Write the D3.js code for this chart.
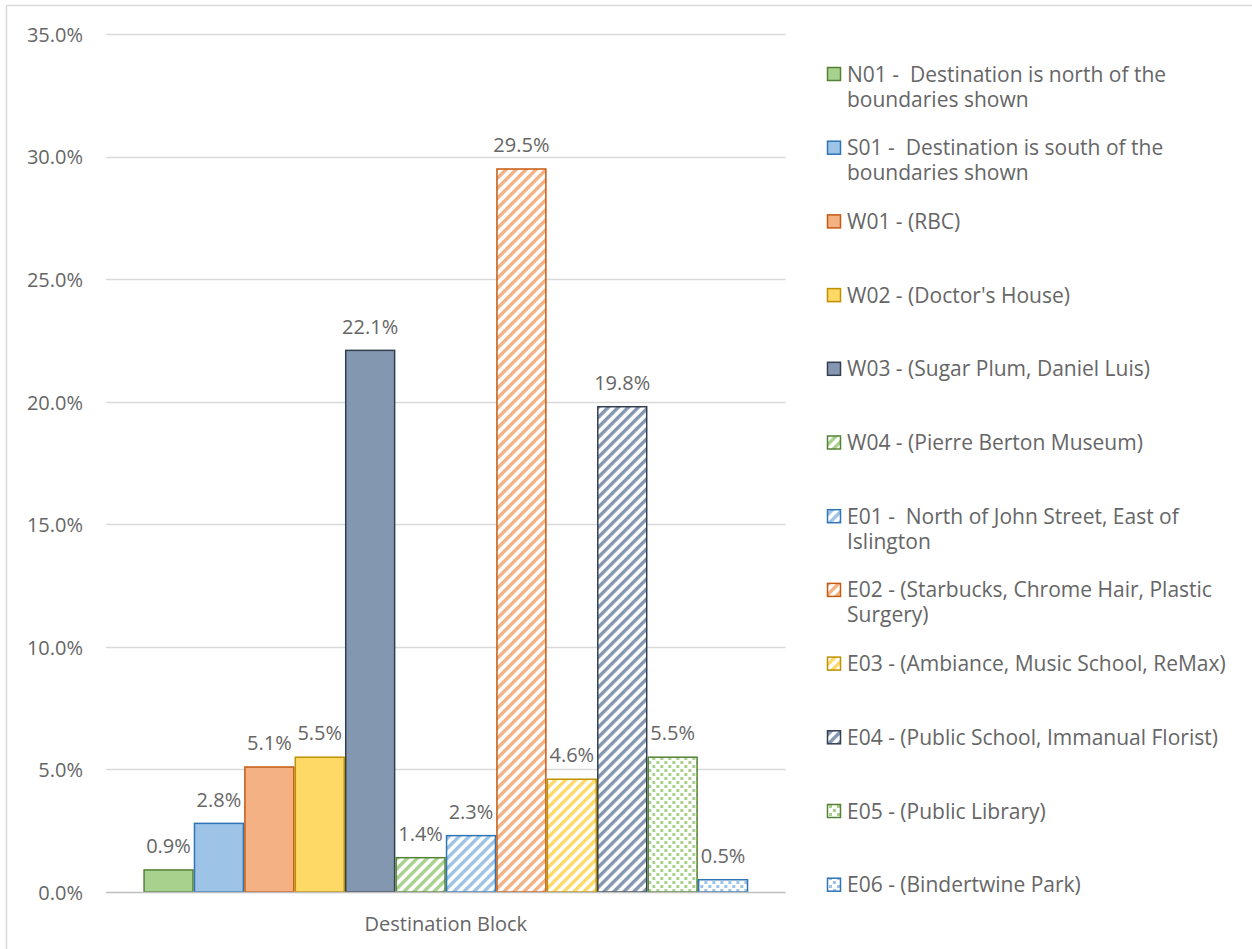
<!DOCTYPE html>
<html>
<head>
<meta charset="utf-8">
<script src="https://cdn.jsdelivr.net/npm/d3@7"></script>
<style>
  html, body { margin: 0; padding: 0; background: #fff; }
  svg { display: block; font-family: "Open Sans", Lato, sans-serif; }
  text { white-space: pre; }
</style>
</head>
<body>
<svg id="chart" width="1252" height="949"></svg>
<script>
// Share of trips by destination block
const categories = ["Destination Block"];

const seriesNames = [
  "N01 -  Destination is north of the boundaries shown",
  "S01 -  Destination is south of the boundaries shown",
  "W01 - (RBC)",
  "W02 - (Doctor's House)",
  "W03 - (Sugar Plum, Daniel Luis)",
  "W04 - (Pierre Berton Museum)",
  "E01 -  North of John Street, East of Islington",
  "E02 - (Starbucks, Chrome Hair, Plastic Surgery)",
  "E03 - (Ambiance, Music School, ReMax)",
  "E04 - (Public School, Immanual Florist)",
  "E05 - (Public Library)",
  "E06 - (Bindertwine Park)"
];

const seriesValues = [0.9, 2.8, 5.1, 5.5, 22.1, 1.4, 2.3, 29.5, 4.6, 19.8, 5.5, 0.5];

const yTicks = [0, 5, 10, 15, 20, 25, 30, 35];

// styling per series
const mainColors = ["#a9d18e", "#9dc3e6", "#f4b183", "#ffd966", "#8497b0",
                    "#a9d18e", "#9dc3e6", "#f4b183", "#ffd966", "#8497b0",
                    "#a9d18e", "#9dc3e6"];
const edgeColors = ["#548235", "#2e75b6", "#c55a11", "#bf9000", "#333f50",
                    "#548235", "#2e75b6", "#c55a11", "#bf9000", "#333f50",
                    "#548235", "#2e75b6"];
const fillKinds  = ["solid", "solid", "solid", "solid", "solid",
                    "stripe", "stripe", "stripe", "stripe", "stripe",
                    "dots", "dots"];

const svg = d3.select("#chart");
const textColor = "#666666";
const fontSize = "20px";
const legendFontSize = "21px";

// chart frame
svg.append("rect")
  .attr("x", 6.5).attr("y", 5.5)
  .attr("width", 1300).attr("height", 1000)
  .attr("fill", "none").attr("stroke", "#d9d9d9").attr("stroke-width", 1.5);

// fill patterns
const defs = svg.append("defs");
seriesNames.forEach((name, i) => {
  if (fillKinds[i] === "stripe") {
    const p = defs.append("pattern")
      .attr("id", "fill" + i)
      .attr("patternUnits", "userSpaceOnUse")
      .attr("width", 7.07).attr("height", 7.07)
      .attr("patternTransform", "rotate(45)");
    p.append("rect").attr("width", 7.07).attr("height", 7.07).attr("fill", "#fff");
    p.append("rect").attr("width", 3.4).attr("height", 7.07).attr("fill", mainColors[i]);
  } else if (fillKinds[i] === "dots") {
    const p = defs.append("pattern")
      .attr("id", "fill" + i)
      .attr("patternUnits", "userSpaceOnUse")
      .attr("width", 8).attr("height", 8);
    p.append("rect").attr("width", 8).attr("height", 8).attr("fill", "#fff");
    p.append("rect").attr("x", 1).attr("y", 1).attr("width", 3).attr("height", 3).attr("fill", mainColors[i]);
    p.append("rect").attr("x", 5).attr("y", 5).attr("width", 3).attr("height", 3).attr("fill", mainColors[i]);
  }
});
const fillOf = i => fillKinds[i] === "solid" ? mainColors[i] : `url(#fill${i})`;

// scales
const plotLeft = 106, plotRight = 785.6;
const y = d3.scaleLinear().domain([0, 35]).range([892, 34.2]);
const x0 = d3.scaleBand().domain(categories).range([plotLeft, plotRight])
  .paddingInner(0).paddingOuter(0.0617);
const x1 = d3.scaleBand().domain(seriesNames).range([0, x0.bandwidth()]).padding(0);

// gridlines
svg.append("g")
  .selectAll("line")
  .data(yTicks.filter(t => t > 0))
  .join("line")
  .attr("x1", plotLeft).attr("x2", plotRight)
  .attr("y1", d => Math.round(y(d)) + 0.5).attr("y2", d => Math.round(y(d)) + 0.5)
  .attr("stroke", "#d9d9d9").attr("stroke-width", 1.5);

// y axis labels
const yAxis = svg.append("g")
  .attr("transform", "translate(83,0)")
  .call(d3.axisLeft(y).tickValues(yTicks).tickSize(0).tickPadding(0)
    .tickFormat(d => d3.format(".1f")(d) + "%"));
yAxis.select(".domain").remove();
yAxis.selectAll("text")
  .attr("fill", textColor)
  .style("font-family", "'Open Sans', sans-serif")
  .style("font-size", fontSize)
  .attr("dy", "0.36em");

// bars
const group = svg.append("g")
  .selectAll("g")
  .data(categories)
  .join("g")
  .attr("transform", d => `translate(${x0(d)},0)`);

const barData = seriesNames.map((name, i) => ({ name, value: seriesValues[i], i }));

group.selectAll("rect")
  .data(barData)
  .join("rect")
  .attr("x", d => x1(d.name) + 0.75)
  .attr("width", x1.bandwidth() - 1.5)
  .attr("y", d => y(d.value))
  .attr("height", d => y(0) - y(d.value))
  .attr("fill", d => fillOf(d.i))
  .attr("stroke", d => edgeColors[d.i])
  .attr("stroke-width", 1.5);

// value labels
group.selectAll("text.value")
  .data(barData)
  .join("text")
  .attr("class", "value")
  .attr("x", d => x1(d.name) + x1.bandwidth() / 2)
  .attr("y", d => y(d.value) - 24)
  .attr("dy", "0.36em")
  .attr("text-anchor", "middle")
  .attr("fill", textColor)
  .style("font-size", fontSize)
  .text(d => d3.format(".1f")(d.value) + "%");

// x axis baseline
svg.append("line")
  .attr("x1", plotLeft).attr("x2", plotRight)
  .attr("y1", y(0) + 0.5).attr("y2", y(0) + 0.5)
  .attr("stroke", "#bfbfbf").attr("stroke-width", 1.5);

// category label
svg.append("g")
  .selectAll("text")
  .data(categories)
  .join("text")
  .attr("x", d => x0(d) + x0.bandwidth() / 2)
  .attr("y", 924)
  .attr("dy", "0.36em")
  .attr("text-anchor", "middle")
  .attr("fill", textColor)
  .style("font-size", fontSize)
  .text(d => d);

// legend
const legend = svg.append("g").attr("class", "legend");
const legendTop = 74, legendStep = 73.7, lineGap = 25, wrapWidth = 400;

seriesNames.forEach((name, i) => {
  const cy = legendTop + i * legendStep;
  const row = legend.append("g");
  row.append("rect")
    .attr("x", 827.5).attr("y", cy - 6.5)
    .attr("width", 13).attr("height", 13)
    .attr("fill", fillOf(i))
    .attr("stroke", edgeColors[i]).attr("stroke-width", 1.5);

  const t = row.append("text")
    .attr("x", 847).attr("y", cy)
    .attr("fill", textColor)
    .style("font-size", legendFontSize);

  // simple word wrap
  const words = name.split(/(?<= )(?=\S)/);
  let line = "";
  let tspan = t.append("tspan").attr("x", 847).attr("dy", "0.36em");
  words.forEach(w => {
    const test = line + w;
    tspan.text(test);
    if (tspan.node().getComputedTextLength() > wrapWidth && line !== "") {
      tspan.text(line.replace(/\s+$/, ""));
      line = w;
      tspan = t.append("tspan").attr("x", 847).attr("dy", lineGap + "px").text(w);
    } else {
      line = test;
    }
  });
});
</script>
</body>
</html>
